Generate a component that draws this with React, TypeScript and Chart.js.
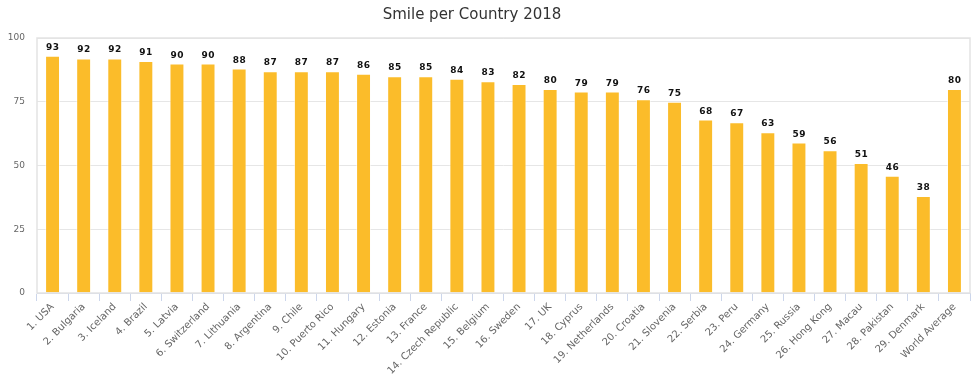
import React, { useEffect, useRef } from "react";
import { Chart, registerables } from "chart.js";

Chart.register(...registerables);

const titleText = "Smile per Country 2018";
const categories = [
  "1. USA", "2. Bulgaria", "3. Iceland", "4. Brazil", "5. Latvia", "6. Switzerland",
  "7. Lithuania", "8. Argentina", "9. Chile", "10. Puerto Rico", "11. Hungary",
  "12. Estonia", "13. France", "14. Czech Republic", "15. Belgium", "16. Sweden",
  "17. UK", "18. Cyprus", "19. Netherlands", "20. Croatia", "21. Slovenia",
  "22. Serbia", "23. Peru", "24. Germany", "25. Russia", "26. Hong Kong",
  "27. Macau", "28. Pakistan", "29. Denmark", "World Average",
];
const smileValues = [
  93, 92, 92, 91, 90, 90, 88, 87, 87, 87, 86, 85, 85, 84, 83, 82, 80, 79, 79, 76,
  75, 68, 67, 63, 59, 56, 51, 46, 38, 80,
];
const yTicks = [0, 25, 50, 75, 100];

const FONT = "'DejaVu Sans', sans-serif";

const extrasPlugin = {
  id: "extras",
  afterDatasetsDraw(chart: any) {
    const ctx = chart.ctx;
    const meta = chart.getDatasetMeta(0);
    ctx.save();
    ctx.font = `bold 9px ${FONT}`;
    try { (ctx as any).letterSpacing = "0.5px"; } catch (e) {}
    ctx.fillStyle = "#111";
    ctx.textAlign = "center";
    ctx.textBaseline = "alphabetic";
    meta.data.forEach((el: any, i: number) => {
      ctx.fillText(String(smileValues[i]), el.x + 0.25, el.y - 6);
    });
    ctx.restore();
  },
  afterDraw(chart: any) {
    const ctx = chart.ctx;
    const a = chart.chartArea;
    ctx.save();
    ctx.strokeStyle = "#e3e3e3";
    ctx.lineWidth = 1.5;
    ctx.strokeRect(a.left, a.top, a.right - a.left, a.bottom - a.top);
    ctx.font = `15px ${FONT}`;
    ctx.fillStyle = "#333";
    ctx.textAlign = "center";
    ctx.textBaseline = "middle";
    ctx.fillText(titleText, 472, 15);
    ctx.restore();
  },
};

export default function App() {
  const ref = useRef<HTMLCanvasElement>(null);
  useEffect(() => {
    if (!ref.current) return;
    const chart = new Chart(ref.current, {
      type: "bar",
      data: {
        labels: categories,
        datasets: [
          {
            data: smileValues,
            backgroundColor: "#FBBC2A",
            borderColor: "rgba(255,255,255,0.5)",
            borderWidth: 1,
            barPercentage: 0.48,
            categoryPercentage: 1,
          },
        ],
      },
      options: {
        responsive: false,
        animation: false,
        layout: { padding: { top: 38, right: 7, left: 0, bottom: 0 } },
        plugins: { legend: { display: false }, tooltip: { enabled: false }, title: { display: false } },
        scales: {
          x: {
            offset: true,
            grid: {
              display: true,
              offset: true,
              drawOnChartArea: false,
              drawTicks: true,
              tickLength: 8,
              color: "#ccd6eb",
            },
            border: { display: true, color: "#ccd6eb" },
            ticks: {
              autoSkip: false,
              maxRotation: 45,
              minRotation: 45,
              color: "#666",
              font: { family: FONT, size: 10 },
              padding: 0,
            },
            afterFit(scale: any) {
              scale.height = 89;
            },
          },
          y: {
            min: 0,
            max: 100,
            afterBuildTicks(scale: any) {
              scale.ticks = yTicks.map((v) => ({ value: v }));
            },
            grid: { color: "#e6e6e6", drawTicks: false },
            border: { display: false },
            ticks: {
              color: "#666",
              font: { family: FONT, size: 9 },
              padding: 12,
            },
            afterFit(scale: any) {
              scale.width = 37;
            },
          },
        },
      },
      plugins: [extrasPlugin],
    } as any);
    return () => chart.destroy();
  }, []);
  return (
    <div style={{ position: "absolute", left: 0, top: 0, width: 977, height: 382 }}>
      <canvas ref={ref} width={977} height={382} style={{ display: "block" }} />
    </div>
  );
}
